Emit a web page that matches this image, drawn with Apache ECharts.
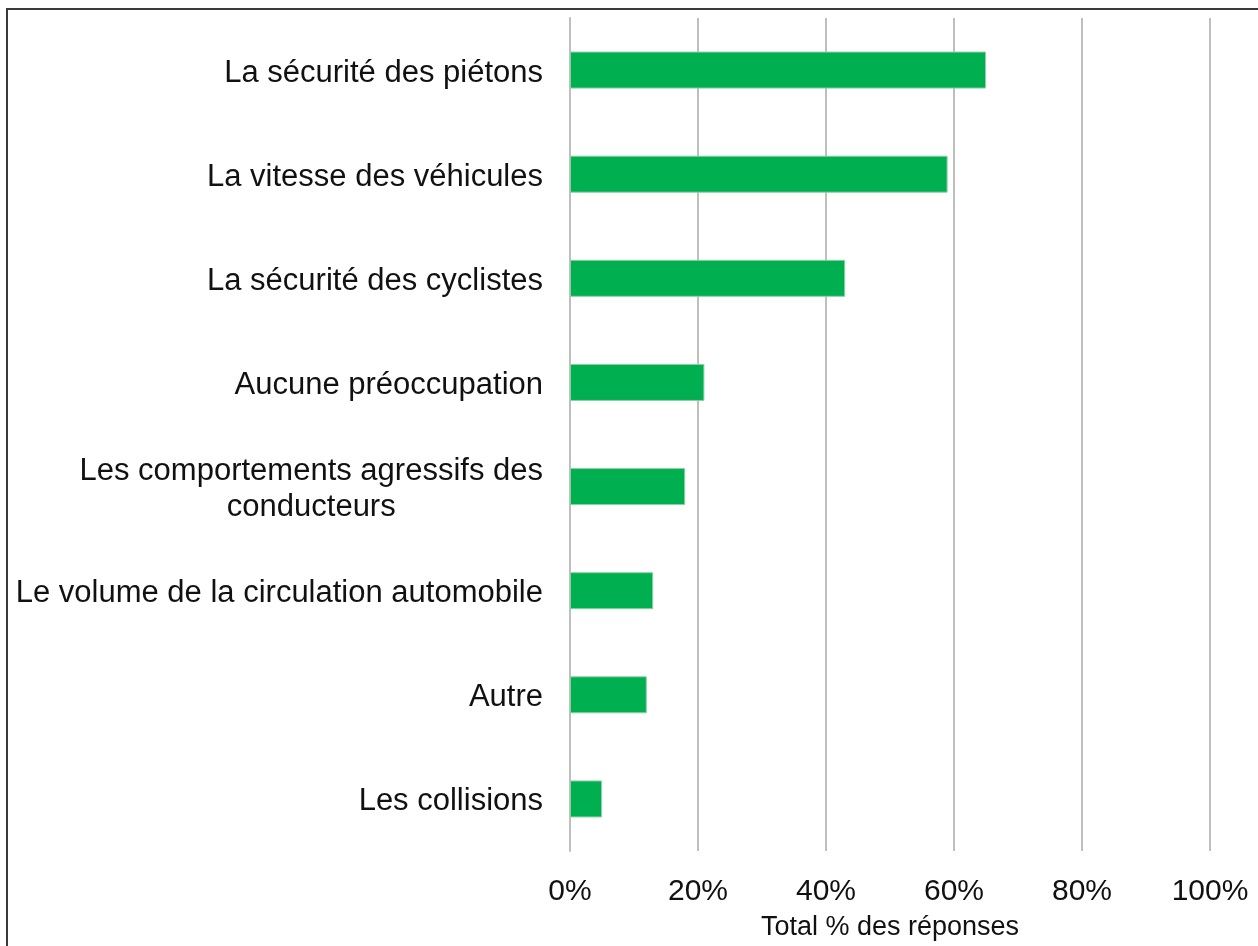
<!DOCTYPE html>
<html>
<head>
<meta charset="utf-8">
<script src="https://cdn.jsdelivr.net/npm/echarts@6/dist/echarts.min.js"></script>
<style>
  html, body { margin: 0; padding: 0; background: #fff; }
  #chart { width: 1258px; height: 946px; }
</style>
</head>
<body>
<div id="chart"></div>
<script>
// Données
const categories = [
    'La sécurité des piétons',
    'La vitesse des véhicules',
    'La sécurité des cyclistes',
    'Aucune préoccupation',
    'Les comportements agressifs des\nconducteurs',
    'Le volume de la circulation automobile',
    'Autre',
    'Les collisions'
];
const valeurs = [65, 59, 43, 21, 18, 13, 12, 5];
const ticksPct = [0, 20, 40, 60, 80, 100];
const titreAxe = 'Total % des réponses';

const police = '"Liberation Sans", Arial, sans-serif';

// largeur de la plus longue ligne d'une étiquette sur deux lignes (pour centrer)
const ctx = document.createElement('canvas').getContext('2d');
ctx.font = '31px ' + police;
function largeurMax(txt) {
    return Math.max(...txt.split('\n').map(l => ctx.measureText(l).width));
}

const chart = echarts.init(document.getElementById('chart'));

const option = {
    animation: false,
    backgroundColor: '#fff',
    graphic: [{
        type: 'rect',
        shape: { x: 7, y: 9, width: 1400, height: 1100 },
        style: { fill: 'none', stroke: '#3a3a3a', lineWidth: 2 },
        silent: true
    }],
    grid: { left: 570, right: 48, top: 18, bottom: 93 },
    xAxis: {
        type: 'value',
        min: ticksPct[0],
        max: ticksPct[ticksPct.length - 1],
        interval: 20,
        name: titreAxe,
        nameLocation: 'middle',
        nameGap: 63,
        nameTextStyle: { fontSize: 27, color: '#111', fontFamily: police },
        axisLine: { show: false },
        axisTick: { show: false },
        axisLabel: {
            formatter: '{value}%',
            fontSize: 30,
            color: '#111',
            fontFamily: police,
            margin: 26
        },
        splitLine: { lineStyle: { color: '#bfbfbf', width: 2 } }
    },
    yAxis: {
        type: 'category',
        data: categories,
        inverse: true,
        axisLine: { show: true, lineStyle: { color: '#bfbfbf', width: 2 } },
        axisTick: { show: false },
        axisLabel: {
            fontSize: 31,
            lineHeight: 36,
            color: '#111',
            fontFamily: police,
            margin: 27,
            padding: [6, 0, 0, 0],
            formatter: function (v) {
                if (v.indexOf('\n') < 0) return v;
                return v.split('\n').map(l => '{c|' + l + '}').join('\n');
            },
            rich: {
                c: {
                    width: largeurMax(categories[4]),
                    align: 'center',
                    fontSize: 31,
                    lineHeight: 36,
                    color: '#111',
                    fontFamily: police
                }
            }
        }
    },
    series: [{
        type: 'bar',
        data: valeurs,
        barWidth: 37,
        itemStyle: {
            color: '#00af50',
            borderColor: '#8fcfa5',
            borderWidth: 1
        }
    }]
};

chart.setOption(option);
</script>
</body>
</html>
